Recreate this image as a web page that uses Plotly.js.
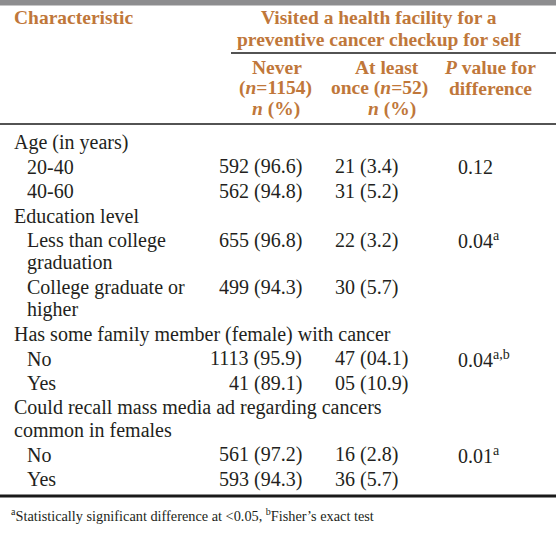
<!DOCTYPE html>
<html>
<head>
<meta charset="utf-8">
<script src="https://cdn.plot.ly/plotly-3.0.1.min.js"></script>
<style>html,body{margin:0;padding:0;background:#fff;overflow:hidden}</style>
</head>
<body>
<div id="chart" style="width:556px;height:548px"></div>
<script>
// ---- table data ----
const rowLabels = [
  "Age (in years)", "20-40", "40-60",
  "Education level", "Less than college<br>graduation", "College graduate or<br>higher",
  "Has some family member (female) with cancer", "No", "Yes",
  "Could recall mass media ad regarding cancers<br>common in females", "No", "Yes"
];
const isSubRow = [false, true, true, false, true, true, false, true, true, false, true, true];
const neverN   = [null, "592", "562", null, "655", "499", null, "1113", "41", null, "561", "593"];
const neverPct = [null, "96.6", "94.8", null, "96.8", "94.3", null, "95.9", "89.1", null, "97.2", "94.3"];
const onceN    = [null, "21", "31", null, "22", "30", null, "47", "05", null, "16", "36"];
const oncePct  = [null, "3.4", "5.2", null, "3.2", "5.7", null, "04.1", "10.9", null, "2.8", "5.7"];
const pValues  = [null, "0.12", null, null, "0.04", null, null, "0.04", null, null, "0.01", null];
const pNotes   = [null, "", null, null, "a", null, null, "a,b", null, null, "a", null];

const headCharacteristic = "Characteristic";
const headGroup = ["Visited a health facility for a", "preventive cancer checkup for self"];
const headNever = ["Never", "(<i>n</i>=1154)", "<i>n</i> (%)"];
const headOnce  = ["At least", "once (<i>n</i>=52)", "<i>n</i> (%)"];
const headP     = ["<i>P</i> value for", "difference"];
const footnote  = "<sup>a</sup>Statistically significant difference at &lt;0.05, <sup>b</sup>Fisher\u2019s exact test";

// ---- layout constants ----
const W = 556, H = 548;
const FONT = "Liberation Serif";
const BODY = 20, HEAD = 19.5;
const txtColor = "#231f20", headColor = "#c0773a";
const firstRowY = 142, rowGap = 24.5, lineGap = 22.5;
const xGroup = 12, xSub = 25, xNeverRight = 304, xOnceLeft = 333, xPLeft = 456;

function ann(text, x, yy, anchor, font) {
  return {
    text: text, x: x, y: yy, xref: "x", yref: "y", xanchor: anchor, yanchor: "middle",
    showarrow: false, font: font
  };
}
const bodyFont = {family: FONT, size: BODY, color: txtColor};
const headFont = {family: FONT, size: HEAD, color: headColor, weight: "bold"};

// ---- body cells, built from the data arrays ----
const annotations = [];
let y = firstRowY;
rowLabels.forEach((label, i) => {
  const lines = label.split("<br>");
  lines.forEach((ln, k) => {
    annotations.push(ann(ln, isSubRow[i] ? xSub : xGroup, y + k * lineGap, "left", bodyFont));
  });
  if (neverN[i] !== null) annotations.push(ann(neverN[i] + " (" + neverPct[i] + ")", xNeverRight, y, "right", bodyFont));
  if (onceN[i] !== null) annotations.push(ann(onceN[i] + " (" + oncePct[i] + ")", xOnceLeft, y, "left", bodyFont));
  if (pValues[i] !== null) annotations.push(ann(pValues[i] + (pNotes[i] ? "<sup>" + pNotes[i] + "</sup>" : ""), xPLeft, y, "left", bodyFont));
  y += (lines.length - 1) * lineGap + rowGap;
});

// ---- header and footnote ----
annotations.push(
  ann(headCharacteristic, 12, 17, "left", headFont),
  ann(headGroup[0], 379, 17, "center", headFont),
  ann(headGroup[1], 379, 39, "center", headFont),
  ann(headNever[0], 277, 67, "center", headFont),
  ann(headNever[1], 275, 88, "center", headFont),
  ann(headNever[2], 276, 109, "center", headFont),
  ann(headOnce[0], 387, 67, "center", headFont),
  ann(headOnce[1], 379, 88, "center", headFont),
  ann(headOnce[2], 392, 109, "center", headFont),
  ann(headP[0], 490, 67, "center", headFont),
  ann(headP[1], 490, 88, "center", headFont),
  ann(footnote, 9, 515, "left", {family: FONT, size: 14.3, color: txtColor})
);

const shapes = [
  {type: "rect", xref: "x", yref: "y", x0: 0, x1: W, y0: 0, y1: 5.5, fillcolor: "#8d8d8f", line: {width: 0}},
  {type: "line", xref: "x", yref: "y", x0: 231, x1: W, y0: 53, y1: 53, line: {color: "#1a1a1a", width: 1.4}},
  {type: "line", xref: "x", yref: "y", x0: 0, x1: W, y0: 124, y1: 124, line: {color: "#1a1a1a", width: 1.6}},
  {type: "line", xref: "x", yref: "y", x0: 0, x1: W, y0: 496, y1: 496, line: {color: "#1a1a1a", width: 3.2}}
];

const layout = {
  width: W, height: H,
  margin: {l: 0, r: 0, t: 0, b: 0, pad: 0},
  paper_bgcolor: "#ffffff", plot_bgcolor: "#ffffff",
  font: {family: FONT},
  xaxis: {range: [0, W], visible: false, fixedrange: true},
  yaxis: {range: [H, 0], visible: false, fixedrange: true},
  showlegend: false,
  annotations: annotations,
  shapes: shapes
};
Plotly.newPlot("chart", [], layout, {displayModeBar: false, staticPlot: true});
</script>
</body>
</html>
